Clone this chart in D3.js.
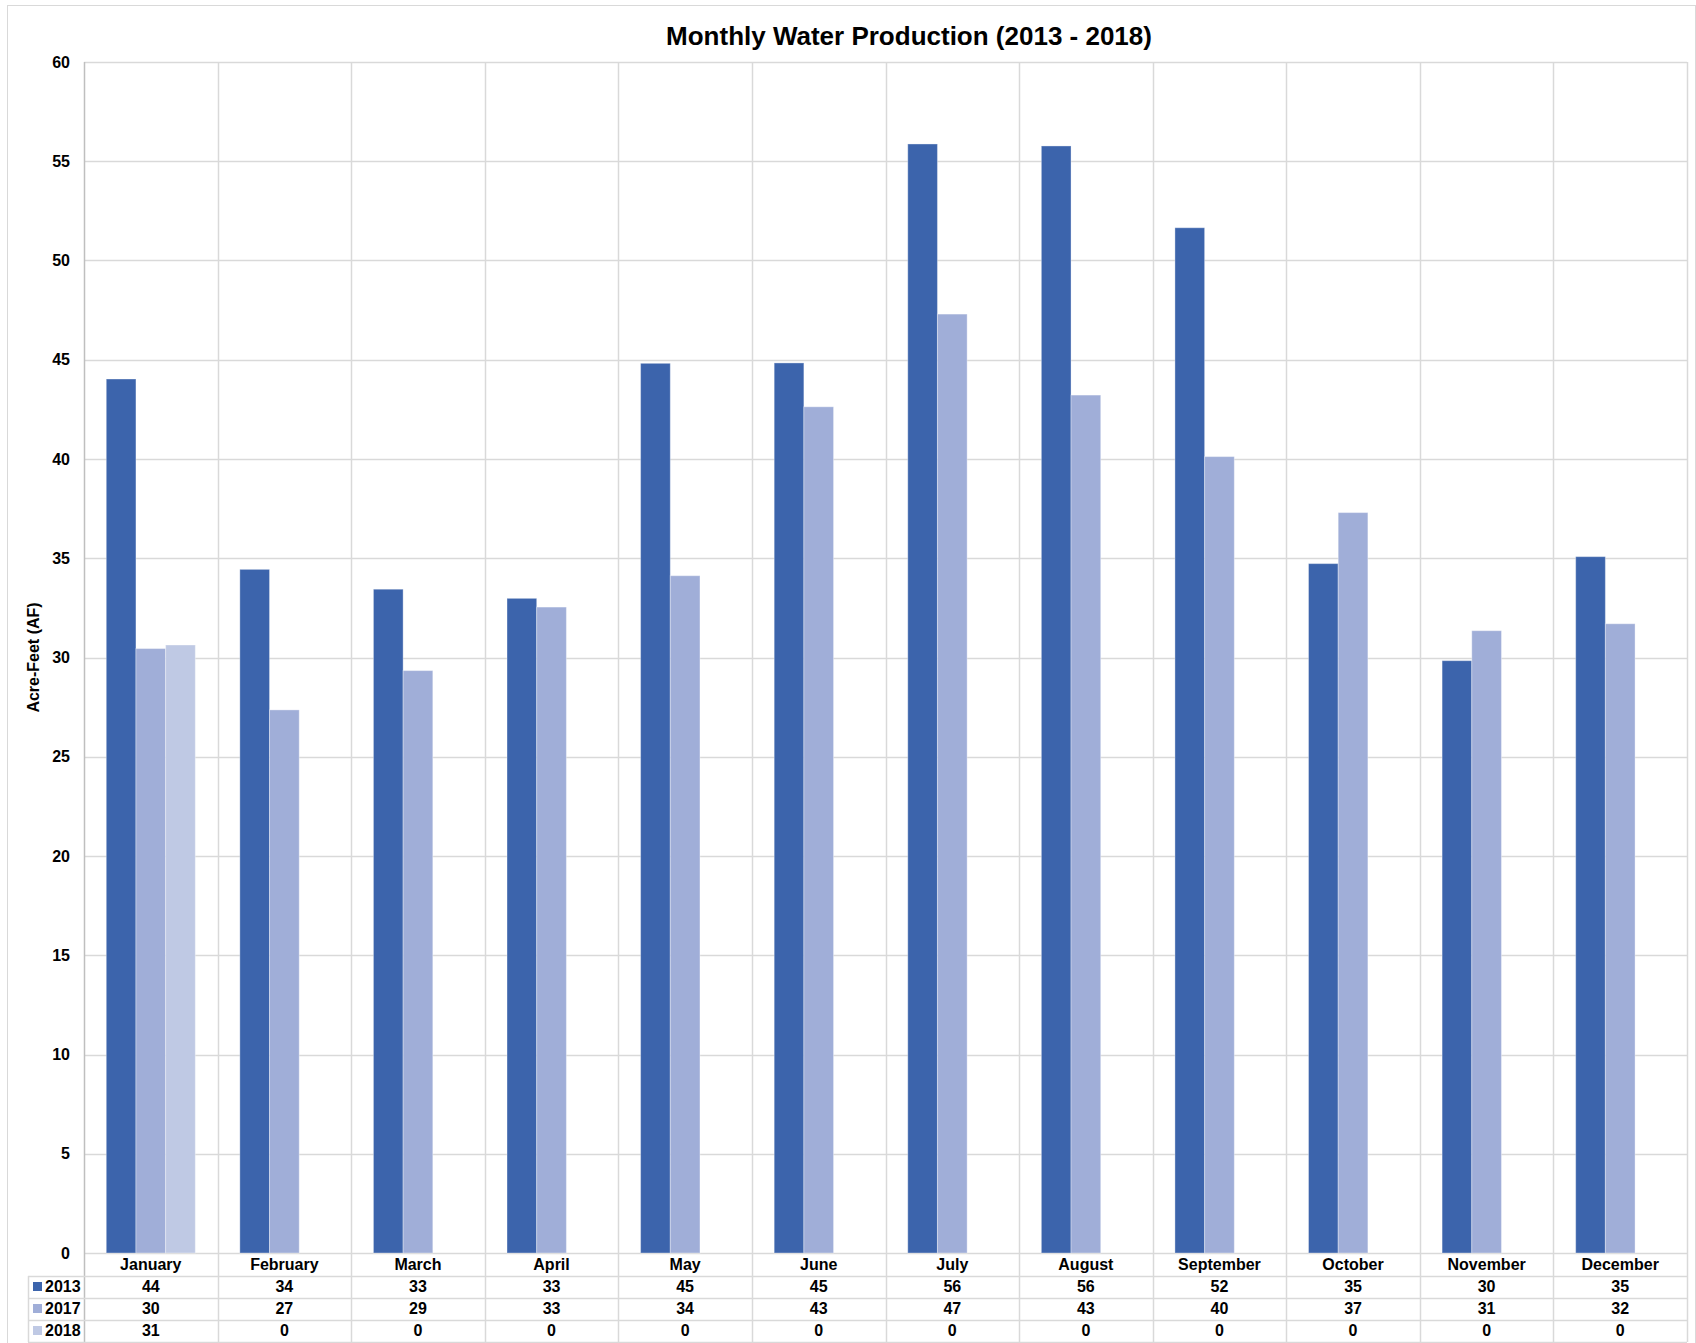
<!DOCTYPE html>
<html>
<head>
<meta charset="utf-8">
<script src="https://cdnjs.cloudflare.com/ajax/libs/d3/7.8.5/d3.min.js"></script>
<style>
  body { margin: 0; background: #fff; }
  svg text { font-family: "Liberation Sans", Arial, sans-serif; font-weight: bold; fill: #000; }
</style>
</head>
<body>
<div id="chart"></div>
<script>
// Data
const months = ["January", "February", "March", "April", "May", "June",
                "July", "August", "September", "October", "November", "December"];
const series = ["2013", "2017", "2018"];
const values2013 = [44.03, 34.44, 33.44, 32.98, 44.82, 44.84, 55.87, 55.77, 51.65, 34.73, 29.84, 35.08];
const values2017 = [30.45, 27.36, 29.34, 32.54, 34.12, 42.63, 47.30, 43.22, 40.12, 37.30, 31.35, 31.70];
const values2018 = [30.63, 0, 0, 0, 0, 0, 0, 0, 0, 0, 0, 0];
const yTicks = [0, 5, 10, 15, 20, 25, 30, 35, 40, 45, 50, 55, 60];

const colors = { "2013": "#3c64ac", "2017": "#a0aed8", "2018": "#bfc9e4" };
const valuesBySeries = { "2013": values2013, "2017": values2017, "2018": values2018 };

// Dimensions
const W = 1696, H = 1343;
const plot = { left: 84, right: 1687, top: 62, bottom: 1253 };
const rowH = 22, headerH = 23, legendLeft = 28;
const gridColor = "#d9d9d9";

const svg = d3.select("#chart")
    .append("svg")
    .attr("width", W)
    .attr("height", H);

// Outer chart border
svg.append("rect")
    .attr("x", 7.5).attr("y", 5.5)
    .attr("width", W - 8).attr("height", H)
    .attr("fill", "none")
    .attr("stroke", gridColor);

// Title
svg.append("text")
    .attr("x", 909)
    .attr("y", 45)
    .attr("text-anchor", "middle")
    .style("font-size", "26px")
    .text("Monthly Water Production (2013 - 2018)");

// Scales
const x0 = d3.scaleBand()
    .domain(months)
    .range([plot.left, plot.right])
    .padding(0);

const x1 = d3.scaleBand()
    .domain(series)
    .range([0, x0.bandwidth()])
    .paddingInner(0)
    .paddingOuter(0.75);

const y = d3.scaleLinear()
    .domain([0, 60])
    .range([plot.bottom, plot.top]);

// Horizontal gridlines
svg.append("g")
    .selectAll("line")
    .data(yTicks)
    .enter()
    .append("line")
    .attr("x1", plot.left).attr("x2", plot.right)
    .attr("y1", d => Math.round(y(d)) + 0.5)
    .attr("y2", d => Math.round(y(d)) + 0.5)
    .attr("stroke", gridColor)
    .attr("stroke-width", 1.5);

// Vertical lines at category boundaries (plot + data table)
const tableBottom = plot.bottom + headerH + rowH * series.length;
const boundaries = months.map(m => x0(m)).concat([plot.right]);
svg.append("g")
    .selectAll("line")
    .data(boundaries)
    .enter()
    .append("line")
    .attr("x1", d => Math.round(d) + 0.5).attr("x2", d => Math.round(d) + 0.5)
    .attr("y1", plot.top)
    .attr("y2", tableBottom)
    .attr("stroke", (d, i) => i === 0 ? "#bfbfbf" : gridColor)
    .attr("stroke-width", 1.5);

// Y axis tick labels
svg.append("g")
    .selectAll("text")
    .data(yTicks)
    .enter()
    .append("text")
    .attr("x", 70)
    .attr("y", d => y(d))
    .attr("dy", "0.35em")
    .attr("text-anchor", "end")
    .style("font-size", "16px")
    .text(d => d);

// Y axis title
svg.append("text")
    .attr("transform", `translate(39, ${(plot.top + plot.bottom) / 2}) rotate(-90)`)
    .attr("text-anchor", "middle")
    .style("font-size", "16px")
    .text("Acre-Feet (AF)");

// Bars
const barData = months.flatMap((m, i) => series.map(s => ({ month: m, series: s, value: valuesBySeries[s][i] })));
svg.append("g")
    .selectAll("rect")
    .data(barData)
    .enter()
    .append("rect")
    .attr("x", d => x0(d.month) + x1(d.series))
    .attr("y", d => y(d.value))
    .attr("width", x1.bandwidth())
    .attr("height", d => y(0) - y(d.value))
    .attr("fill", d => colors[d.series])
    .attr("stroke", d => d.value > 0 ? "rgba(255,255,255,0.35)" : "none")
    .attr("stroke-width", 1);

// Data table: horizontal lines
const tableLines = [plot.bottom + headerH];
series.forEach((s, i) => tableLines.push(plot.bottom + headerH + rowH * (i + 1)));
svg.append("g")
    .selectAll("line")
    .data(tableLines)
    .enter()
    .append("line")
    .attr("x1", legendLeft).attr("x2", plot.right)
    .attr("y1", d => d + 0.5).attr("y2", d => d + 0.5)
    .attr("stroke", gridColor)
    .attr("stroke-width", 1.5);

// Left border of legend column
svg.append("line")
    .attr("x1", legendLeft + 0.5).attr("x2", legendLeft + 0.5)
    .attr("y1", plot.bottom + headerH).attr("y2", tableBottom)
    .attr("stroke", gridColor)
    .attr("stroke-width", 1.5);

// Month labels (header row)
svg.append("g")
    .selectAll("text")
    .data(months)
    .enter()
    .append("text")
    .attr("x", d => x0(d) + x0.bandwidth() / 2)
    .attr("y", plot.bottom + headerH / 2)
    .attr("dy", "0.35em")
    .attr("text-anchor", "middle")
    .style("font-size", "16px")
    .text(d => d);

// Table rows: legend key + values
const fmt = d3.format(".0f");
series.forEach((s, i) => {
    const rowY = plot.bottom + headerH + rowH * i;
    const row = svg.append("g");
    row.append("rect")
        .attr("x", 33).attr("y", rowY + rowH / 2 - 5)
        .attr("width", 9).attr("height", 9)
        .attr("fill", colors[s]);
    row.append("text")
        .attr("x", 45)
        .attr("y", rowY + rowH / 2 - 1)
        .attr("dy", "0.35em")
        .style("font-size", "16px")
        .text(s);
    row.selectAll("text.val")
        .data(valuesBySeries[s])
        .enter()
        .append("text")
        .attr("class", "val")
        .attr("x", (d, j) => x0(months[j]) + x0.bandwidth() / 2)
        .attr("y", rowY + rowH / 2 - 1)
        .attr("dy", "0.35em")
        .attr("text-anchor", "middle")
        .style("font-size", "16px")
        .text(d => fmt(d));
});
</script>
</body>
</html>
